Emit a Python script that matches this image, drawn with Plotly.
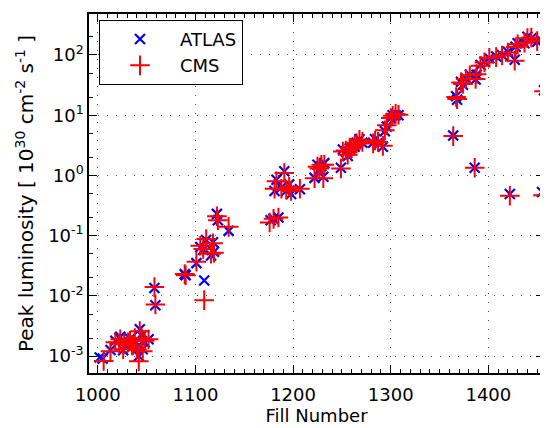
import plotly.graph_objects as go

# Fill numbers and peak luminosities [1e30 cm^-2 s^-1]
atlas_fill = [1002, 1005, 1013, 1018, 1022, 1023, 1026, 1027, 1031, 1033, 1035, 1036, 1038, 1040,
              1042, 1043, 1045, 1046, 1048, 1052, 1058, 1059,
              1089, 1090, 1101, 1105, 1108, 1109, 1111, 1116, 1118, 1119, 1122, 1123, 1134,
              1177, 1180, 1181, 1183, 1185, 1188, 1191, 1193, 1196, 1198, 1207,
              1222, 1225, 1227, 1229, 1231, 1232,
              1249, 1251, 1254, 1256, 1258, 1260, 1263, 1265, 1268, 1271,
              1282, 1284, 1287, 1292, 1294, 1296, 1300, 1302, 1305, 1308,
              1364, 1367, 1368, 1372, 1374, 1377, 1381, 1386, 1387, 1388, 1392, 1396,
              1401, 1408, 1414, 1420, 1422, 1427, 1428, 1430, 1437, 1440, 1444, 1450,
              1454, 1455, 1457]
atlas_lumi = [9.5e-4, 9.1e-4, 1.26e-3, 1.8e-3, 2.0e-3, 2.1e-3, 1.25e-3, 1.7e-3, 1.6e-3, 1.95e-3,
              1.4e-3, 1.6e-3, 1.8e-3, 1.4e-3, 1.0e-3, 2.8e-3, 2.2e-3, 1.3e-3, 1.7e-3, 1.9e-3,
              1.35e-2, 7.0e-3,
              0.023, 0.022, 0.035, 0.065, 0.058, 0.018, 0.085, 0.047, 0.078, 0.054, 0.23, 0.18, 0.12,
              0.18, 0.19, 0.55, 0.85, 0.20, 0.63, 1.17, 0.55, 0.71, 0.49, 0.59,
              0.91, 1.5, 1.26, 1.43, 0.95, 1.6,
              1.34, 2.7, 2.5, 2.1, 2.8, 2.9, 3.0, 3.5, 4.0, 3.5,
              3.5, 4.0, 3.5, 3.0, 5.4, 6.5, 8.9, 10.0, 10.0, 10.0,
              4.6, 20.6, 18, 36, 32, 41, 47, 1.34, 39, 47, 68, 77,
              88, 94, 100, 113, 0.49, 83, 137, 156, 156, 200, 190, 166,
              177, 0.53, 26]

cms_fill = [1006, 1013, 1018, 1022, 1023, 1026, 1027, 1031, 1033, 1035, 1036, 1038, 1040,
            1042, 1043, 1045, 1046, 1048, 1052, 1058, 1059,
            1089, 1090, 1101, 1105, 1108, 1109, 1111, 1116, 1118, 1119, 1122, 1123, 1134,
            1176, 1180, 1181, 1183, 1185, 1188, 1191, 1193, 1196, 1198, 1207,
            1222, 1225, 1227, 1229, 1231, 1232,
            1249, 1251, 1254, 1256, 1258, 1260, 1263, 1265, 1268, 1271,
            1282, 1284, 1287, 1292, 1294, 1296, 1300, 1302, 1305, 1308,
            1364, 1367, 1368, 1372, 1374, 1377, 1381, 1386, 1387, 1388, 1392, 1396,
            1401, 1408, 1414, 1420, 1422, 1427, 1428, 1430, 1437, 1440, 1444, 1450,
            1454, 1456, 1457]
cms_lumi = [8.3e-4, 1.2e-3, 1.7e-3, 1.6e-3, 1.9e-3, 1.3e-3, 1.6e-3, 1.7e-3, 1.8e-3,
            1.5e-3, 1.5e-3, 2.0e-3, 1.3e-3, 8.2e-4, 2.6e-3, 2.0e-3, 1.2e-3, 1.8e-3, 1.9e-3,
            1.4e-2, 7.2e-3,
            0.023, 0.022, 0.037, 0.068, 0.060, 0.0085, 0.088, 0.050, 0.075, 0.052, 0.21, 0.18, 0.14,
            0.165, 0.19, 0.60, 0.80, 0.20, 0.60, 1.1, 0.58, 0.65, 0.55, 0.60,
            0.90, 1.4, 1.3, 1.5, 0.90, 1.5,
            1.3, 2.5, 2.6, 2.2, 2.9, 2.8, 3.1, 3.4, 3.9, 3.6,
            3.4, 3.8, 3.6, 3.1, 5.6, 6.8, 9.0, 9.8, 10.5, 10.2,
            4.5, 20, 18.5, 35, 33, 40, 46, 1.34, 40, 48, 66, 75,
            90, 92, 98, 110, 0.46, 80, 135, 150, 160, 190, 195, 170,
            175, 0.47, 25]

x_major = [1000, 1100, 1200, 1300, 1400]
y_major = [1e-3, 1e-2, 1e-1, 1, 10, 100]
y_labels = ["10<sup>-3</sup>", "10<sup>-2</sup>", "10<sup>-1</sup>",
            "10<sup>0</sup>", "10<sup>1</sup>", "10<sup>2</sup>"]

FONT = "DejaVu Sans, Liberation Sans, Arial, sans-serif"

fig = go.Figure()
fig.add_trace(go.Scatter(
    x=atlas_fill, y=atlas_lumi, mode="markers", name="ATLAS",
    marker=dict(symbol="x-thin", size=10, color="blue",
                line=dict(color="blue", width=2.2)),
))
fig.add_trace(go.Scatter(
    x=cms_fill, y=cms_lumi, mode="markers", name="CMS",
    marker=dict(symbol="cross-thin", size=14, color="red",
                line=dict(color="red", width=2)),
))

axis_common = dict(
    showline=True, linecolor="black", linewidth=1.5, mirror="ticks",
    ticks="inside", ticklen=8, tickwidth=1.2, tickcolor="black",
    showgrid=True, gridcolor="#555555", gridwidth=1, griddash="1px,8px",
    zeroline=False, automargin=False,
    tickfont=dict(family=FONT, size=18, color="black"),
)

fig.update_xaxes(
    range=[991, 1457],
    tickvals=x_major, ticktext=[str(v) for v in x_major],
    ticklabelstandoff=5,
    title=dict(text="Fill Number", font=dict(family=FONT, size=18, color="black"), standoff=4),
    minor=dict(ticks="inside", ticklen=4, tickcolor="black", dtick=10, showgrid=False),
    **axis_common,
)
fig.update_yaxes(
    type="log", range=[-3.28, 2.68],
    tickvals=y_major, ticktext=y_labels,
    title=dict(text="Peak luminosity [ 10<sup>30</sup> cm<sup>-2</sup> s<sup>-1</sup> ]",
               font=dict(family=FONT, size=20, color="black"), standoff=9),
    minor=dict(ticks="inside", ticklen=4, tickcolor="black", showgrid=False),
    **axis_common,
)

# the page body adds an 8 px margin, so the figure is 540x420 drawn at (8, 8)
fig.update_layout(
    width=540, height=420,
    margin=dict(l=81, r=4, t=6, b=55),
    paper_bgcolor="white", plot_bgcolor="white",
    font=dict(family=FONT, color="black"),
    showlegend=True,
    legend=dict(
        x=0.022, y=0.984, xanchor="left", yanchor="top",
        bgcolor="white", bordercolor="black", borderwidth=1,
        font=dict(family=FONT, size=18, color="black"),
        itemwidth=70, tracegroupgap=0,
    ),
)

fig.write_html("out.html")
